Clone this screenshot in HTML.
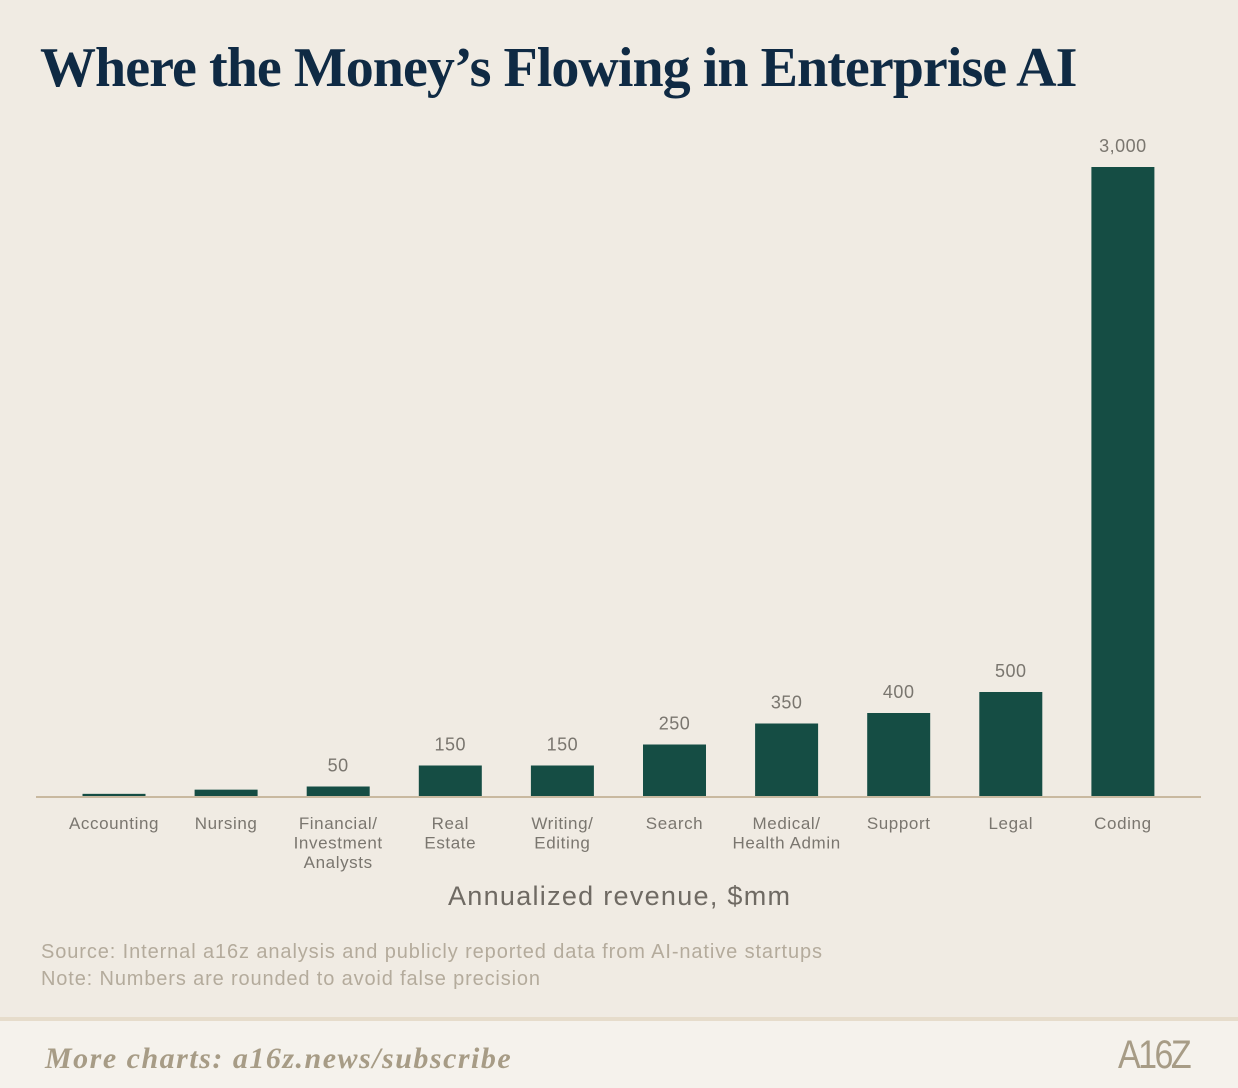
<!DOCTYPE html>
<html><head><meta charset="utf-8">
<style>
body{margin:0;width:1238px;height:1084px;background:#f0ebe3;overflow:hidden;font-family:"Liberation Sans",sans-serif;}
#title{position:absolute;left:40px;top:36px;margin:0;font-family:"Liberation Serif",serif;font-weight:bold;font-size:56px;color:#0f2a44;letter-spacing:-0.95px;}
#footer{position:absolute;left:0;top:1017px;width:1238px;height:67px;background:#f5f2ec;border-top:4px solid #e6dccb;}
</style></head><body>
<h1 id="title">Where the Money’s Flowing in Enterprise AI</h1>
<svg id="chart" width="1238" height="1010" style="position:absolute;left:0;top:0"></svg>
<div id="footer">
<div style="position:absolute;left:45px;top:21px;font-family:'Liberation Serif',serif;font-style:italic;font-weight:bold;font-size:30px;color:#a79c86;letter-spacing:1.5px">More charts: a16z.news/subscribe</div>
<div style="position:absolute;left:1118px;top:12px;font-family:'Liberation Sans',sans-serif;font-size:40px;color:#a79c86;letter-spacing:-3px;transform:scaleX(0.85);transform-origin:left">A16Z</div>
</div>
<script>
const categories=[["Accounting"],["Nursing"],["Financial/","Investment","Analysts"],["Real","Estate"],["Writing/","Editing"],["Search"],["Medical/","Health Admin"],["Support"],["Legal"],["Coding"]];
const values=[15,35,50,150,150,250,350,400,500,3000];
const labels=["","","50","150","150","250","350","400","500","3,000"];
const NS="http://www.w3.org/2000/svg";
const svg=document.getElementById('chart');
const baseY=797, pxPerUnit=630/3000, x0=114, step=112.1, bw=63;
const y=v=>baseY-v*pxPerUnit;
const x=i=>x0+i*step;
function mk(t,a){const e=document.createElementNS(NS,t);for(const k in a)e.setAttribute(k,a[k]);svg.appendChild(e);return e;}
values.forEach((v,i)=>{
 const r=mk('rect',{x:x(i)-bw/2,y:y(v),width:bw,height:baseY-y(v),fill:'#154d44'});
 
 
 if(labels[i]){const t=mk('text',{x:x(i),y:y(v)-15,'text-anchor':'middle','font-size':18,fill:'#7a766f','letter-spacing':0.5});t.textContent=labels[i];
 
 }
 categories[i].forEach((line,j)=>{const t=mk('text',{x:x(i),y:829+j*19.5,'text-anchor':'middle','font-size':17,fill:'#7a766f','letter-spacing':0.6});t.textContent=line;
 
 });
});
const ax=mk('line',{x1:36,x2:1201,y1:baseY,y2:baseY,stroke:'#c9b9a0','stroke-width':2});


const at=mk('text',{x:448,y:905,'font-size':27,fill:'#6f6a63',textLength:342,lengthAdjust:'spacing'});at.textContent='Annualized revenue, $mm';


const s=mk('text',{x:41,y:958,'font-size':20,fill:'#b4ab9c',textLength:781,lengthAdjust:'spacing'});s.textContent='Source: Internal a16z analysis and publicly reported data from AI-native startups';


const n=mk('text',{x:41,y:985,'font-size':20,fill:'#b4ab9c',textLength:499,lengthAdjust:'spacing'});n.textContent='Note: Numbers are rounded to avoid false precision';


</script>
</body></html>
